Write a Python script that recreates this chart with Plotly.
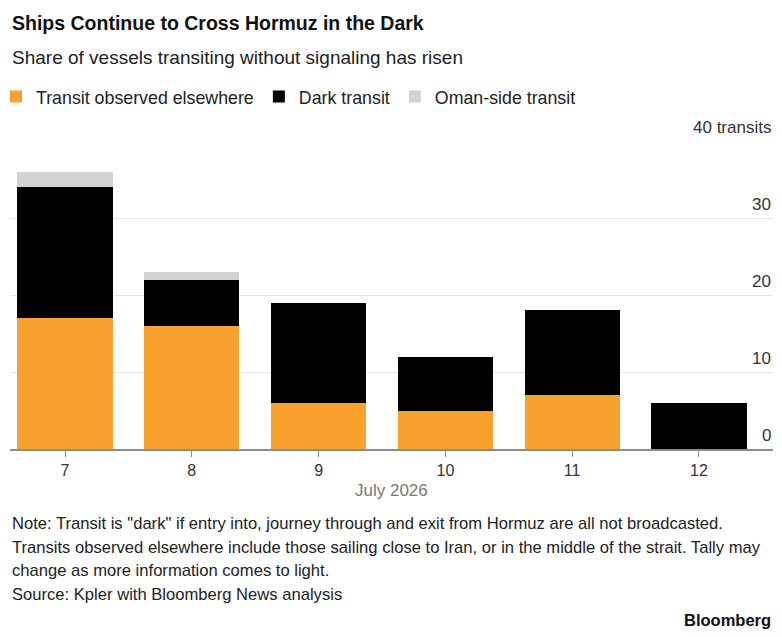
import plotly.graph_objects as go

days = ["7", "8", "9", "10", "11", "12"]
elsewhere = [17, 16, 6, 5, 7, 0]
dark = [17, 6, 13, 7, 11, 6]
oman = [2, 1, 0, 0, 0, 0]
ytick_vals = [0, 10, 20, 30, 40]
ytick_text = ["0", "10", "20", "30", "40 transits"]

ORANGE = "#F9A12E"
BLACK = "#000000"
GRAY = "#D3D3D3"
FONT = "Liberation Sans, Arial, sans-serif"

W, H = 782, 637
L, R, T, B = 10, 9, 141, 188
PW = W - L - R
PH = H - T - B


def xp(px):
    return (px - L) / PW


def yp(py):
    return (H - B - py) / PH


fig = go.Figure()
fig.add_trace(go.Bar(x=days, y=elsewhere, name="Transit observed elsewhere",
                     marker=dict(color=ORANGE, line=dict(width=0))))
fig.add_trace(go.Bar(x=days, y=dark, name="Dark transit",
                     marker=dict(color=BLACK, line=dict(width=0))))
fig.add_trace(go.Bar(x=days, y=oman, name="Oman-side transit",
                     marker=dict(color=GRAY, line=dict(width=0))))

annotations = []
for v, t in zip(ytick_vals, ytick_text):
    annotations.append(dict(x=1, xref="paper", y=v, yref="y", text=t,
                            showarrow=False, xanchor="right", yanchor="bottom",
                            yshift=2, font=dict(family=FONT, size=17, color="#333333")))

annotations.append(dict(x=xp(10), y=yp(23), xref="paper", yref="paper",
                        text="<b>Ships Continue to Cross Hormuz in the Dark</b>",
                        showarrow=False, xanchor="left", yanchor="middle",
                        font=dict(family=FONT, size=19.5, color="#111111")))
annotations.append(dict(x=xp(10), y=yp(57), xref="paper", yref="paper",
                        text="Share of vessels transiting without signaling has risen",
                        showarrow=False, xanchor="left", yanchor="middle",
                        font=dict(family=FONT, size=19, color="#222222")))
annotations.append(dict(x=0.5, y=yp(490), xref="paper", yref="paper",
                        text="July 2026", showarrow=False, xanchor="center",
                        yanchor="middle", font=dict(family=FONT, size=17, color="#777777")))

notes = [
    ("Note: Transit is \"dark\" if entry into, journey through and exit from Hormuz are all not broadcasted.", 523),
    ("Transits observed elsewhere include those sailing close to Iran, or in the middle of the strait. Tally may", 547),
    ("change as more information comes to light.", 570),
    ("Source: Kpler with Bloomberg News analysis", 594),
]
for txt, py in notes:
    annotations.append(dict(x=xp(10), y=yp(py), xref="paper", yref="paper",
                            text=txt, showarrow=False, xanchor="left",
                            yanchor="middle", font=dict(family=FONT, size=16.6, color="#222222")))
annotations.append(dict(x=xp(773), y=yp(620), xref="paper", yref="paper",
                        text="<b>Bloomberg</b>", showarrow=False, xanchor="right",
                        yanchor="middle", font=dict(family=FONT, size=16.5, color="#111111")))

fig.update_layout(
    width=W, height=H,
    margin=dict(l=L, r=R, t=T, b=B, pad=0, autoexpand=False),
    barmode="stack",
    bargap=0.25,
    plot_bgcolor="white",
    paper_bgcolor="white",
    font=dict(family=FONT, color="#222222"),
    showlegend=True,
    legend=dict(orientation="h", x=xp(-4), y=yp(97), xanchor="left", yanchor="middle",
                font=dict(family=FONT, size=17.8, color="#222222"),
                traceorder="normal", bgcolor="rgba(0,0,0,0)", borderwidth=0),
    annotations=annotations,
    xaxis=dict(type="category", range=[-0.434, 5.584], showgrid=False,
               showline=True, linecolor="#8c8c8c", linewidth=2,
               ticks="outside", ticklen=6, tickcolor="#8c8c8c", tickwidth=1,
               tickfont=dict(family=FONT, size=16, color="#333333"),
               fixedrange=True, zeroline=False),
    yaxis=dict(range=[0, 40], tickvals=ytick_vals, showticklabels=False,
               showgrid=True, gridcolor="#e6e6e6", gridwidth=1,
               zeroline=False, showline=False, fixedrange=True),
)

fig.write_html("out.html")
